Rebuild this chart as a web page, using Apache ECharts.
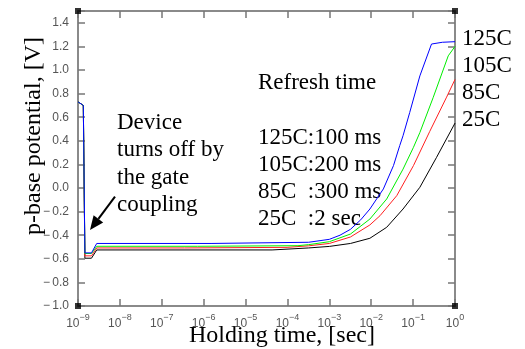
<!DOCTYPE html>
<html>
<head>
<meta charset="utf-8">
<script src="https://cdn.jsdelivr.net/npm/echarts@6/dist/echarts.min.js"></script>
<style>html,body{margin:0;padding:0;background:#fff;}#c{width:525px;height:349px;}</style>
</head>
<body>
<div id="c"></div>
<script>
// Holding time [sec] and p-base potential [V] for each temperature
var t125 = [1e-9, 1.34e-9, 1.46e-9, 1.46e-9, 2.1e-9, 2.8e-9, 1.5e-6, 1.5e-6, 3.2e-4, 1e-3, 1.8e-3, 3.2e-3, 5.6e-3, 9.3e-3, 1.95e-2, 3.4e-2, 4.8e-2, 5.75e-2, 8.3e-2, 0.145, 0.275, 0.5, 1];
var v125 = [0.73, 0.70, 0.70, -0.55, -0.55, -0.47, -0.47, -0.46, -0.46, -0.435, -0.40, -0.35, -0.27, -0.178, -0.008, 0.19, 0.36, 0.443, 0.64, 0.95, 1.22, 1.235, 1.24];

var t105 = [1e-9, 1.34e-9, 1.46e-9, 1.46e-9, 2.1e-9, 2.8e-9, 7.2e-7, 7.2e-7, 1.78e-4, 1.78e-4, 3.2e-4, 1e-3, 3.2e-3, 9.3e-3, 2.34e-2, 5.75e-2, 0.102, 0.145, 0.30, 0.69, 1];
var v105 = [0.73, 0.70, 0.70, -0.555, -0.555, -0.494, -0.494, -0.489, -0.489, -0.48, -0.48, -0.455, -0.39, -0.263, -0.093, 0.16, 0.345, 0.47, 0.765, 1.12, 1.2];

var t85 = [1e-9, 1.34e-9, 1.46e-9, 1.46e-9, 2.1e-9, 2.8e-9, 3.5e-7, 3.5e-7, 9.8e-5, 9.8e-5, 3.2e-4, 1e-3, 3.2e-3, 9.3e-3, 1.62e-2, 4.07e-2, 0.102, 0.25, 0.63, 1];
var v85 = [0.73, 0.70, 0.70, -0.575, -0.575, -0.508, -0.508, -0.503, -0.503, -0.492, -0.49, -0.47, -0.415, -0.313, -0.235, -0.065, 0.19, 0.48, 0.77, 0.92];

var t25 = [1e-9, 1.34e-9, 1.46e-9, 1.46e-9, 2.1e-9, 2.8e-9, 4.3e-5, 4.3e-5, 3.2e-4, 1e-3, 3.2e-3, 9.3e-3, 2.34e-2, 5.75e-2, 0.145, 0.363, 1];
var v25 = [0.73, 0.70, 0.70, -0.595, -0.595, -0.525, -0.525, -0.511, -0.508, -0.495, -0.47, -0.426, -0.333, -0.178, 0.006, 0.26, 0.55];

var seriesNames = ['25C', '85C', '105C', '125C'];
var refreshLines = ['Refresh time', '', '125C:100 ms', '105C:200 ms', '85C  :300 ms', '25C  :2 sec'];
var deviceLines = ['Device', 'turns off by', 'the gate', 'coupling'];
var endLabels = ['125C', '105C', '85C', '25C'];
var cornerT = [1e-9, 1, 1e-9, 1];
var cornerV = [-1, -1, 1.5, 1.5];

function pairs(t, v) { return t.map(function (x, i) { return [x, v[i]]; }); }

var SERIF = '"Liberation Serif", "Times New Roman", serif';
var SANS = '"Liberation Sans", Arial, sans-serif';
var axisGray = '#8a8a8a';

var chart = echarts.init(document.getElementById('c'), null, {renderer: 'canvas'});

function xFmt(value) {
  var e = Math.round(Math.log10(value));
  var s = e < 0 ? '\u2212' + (-e) : String(e);
  return '{b|10}{s|' + s + '}';
}
function yFmt(value) {
  if (Math.abs(value - 1.5) < 1e-6) return '';
  var s = Math.abs(value).toFixed(1);
  return value < -1e-9 ? '\u2212\u2009' + s : s;
}

var serif = function (txt, x, y) {
  return {type: 'text', x: x, y: y, silent: true,
    style: {text: txt, fontSize: 23, fontFamily: SERIF, fill: '#000', align: 'left', verticalAlign: 'middle'}};
};

var graphics = [];
refreshLines.forEach(function (s, i) { if (s) graphics.push(serif(s, 258, 83 + (i === 0 ? 0 : 55 + (i - 2) * 27))); });
deviceLines.forEach(function (s, i) { graphics.push(serif(s, 117, 122.5 + i * 27.5)); });
endLabels.forEach(function (s, i) { graphics.push(serif(s, 462, 38.5 + i * 27)); });
graphics.push({type: 'text', x: 282, y: 336, silent: true,
  style: {text: 'Holding time, [sec]', fontSize: 24, fontFamily: SERIF, fill: '#000', align: 'center', verticalAlign: 'middle'}});
graphics.push({type: 'text', x: 34, y: 136, rotation: Math.PI / 2, silent: true,
  style: {text: 'p-base potential, [V]', fontSize: 24, fontFamily: SERIF, fill: '#000', align: 'center', verticalAlign: 'middle'}});
// arrow
graphics.push({type: 'line', silent: true, shape: {x1: 115, y1: 196.7, x2: 98.4, y2: 218.8}, style: {stroke: '#000', lineWidth: 2}});
graphics.push({type: 'polygon', silent: true, shape: {points: [[90, 230], [103.2, 222.4], [93.6, 215.2]]}, style: {fill: '#000'}});

var colors = {'25C': '#000000', '85C': '#ff2020', '105C': '#00ee00', '125C': '#0000ff'};
var dataMap = {'25C': pairs(t25, v25), '85C': pairs(t85, v85), '105C': pairs(t105, v105), '125C': pairs(t125, v125)};

var series = seriesNames.map(function (n) {
  return {name: n, type: 'line', data: dataMap[n], symbol: 'none', smooth: false,
    lineStyle: {color: colors[n], width: 1}, itemStyle: {color: colors[n]}, clip: true, animation: false, z: 3};
});
series.push({type: 'scatter', data: pairs(cornerT, cornerV), symbol: 'rect', symbolSize: 6,
  itemStyle: {color: '#000'}, clip: false, z: 5, animation: false, silent: true});

var xCommon = {type: 'log', logBase: 10, min: 1e-9, max: 1, interval: 1,
  axisLine: {show: true, onZero: false, lineStyle: {color: axisGray, width: 2}},
  axisTick: {show: true, inside: true, length: 7, lineStyle: {color: '#777', width: 1.5}},
  splitLine: {show: false}, minorTick: {show: false}};
var yCommon = {type: 'value', min: -1, max: 1.5, interval: 0.2,
  axisLine: {show: true, onZero: false, lineStyle: {color: axisGray, width: 2}},
  axisTick: {show: true, inside: true, length: 7, lineStyle: {color: '#777', width: 1.5}},
  splitLine: {show: false}};

chart.setOption({
  animation: false,
  backgroundColor: '#fff',
  grid: {left: 78, right: 70, top: 11, bottom: 43, containLabel: false},
  xAxis: [
    Object.assign({}, xCommon, {position: 'bottom',
      axisLabel: {show: true, margin: 7, formatter: xFmt,
        rich: {b: {fontSize: 12, fontFamily: SANS, color: '#555', padding: [5, 0, 0, 0]},
               s: {fontSize: 9, fontFamily: SANS, color: '#555', verticalAlign: 'top'}}}}),
    Object.assign({}, xCommon, {position: 'top', axisLabel: {show: false}})
  ],
  yAxis: [
    Object.assign({}, yCommon, {position: 'left',
      axisLabel: {show: true, margin: 9, formatter: yFmt, fontSize: 12, fontFamily: SANS, color: '#555'}}),
    Object.assign({}, yCommon, {position: 'right', axisLabel: {show: false}})
  ],
  graphic: graphics,
  series: series
});
</script>
</body>
</html>
